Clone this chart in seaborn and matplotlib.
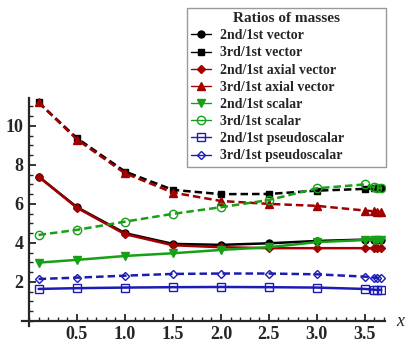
import seaborn as sns
import matplotlib.pyplot as plt
from matplotlib.ticker import MultipleLocator

# data
x_vals = [0.1, 0.5, 1.0, 1.5, 2.0, 2.5, 3.0, 3.5, 3.6, 3.63, 3.67]
vec2 = [7.40, 5.83, 4.50, 3.95, 3.90, 3.98, 4.10, 4.17, 4.17, 4.17, 4.17]
vec3 = [11.20, 9.37, 7.66, 6.72, 6.50, 6.51, 6.68, 6.77, 6.80, 6.80, 6.80]
axv2 = [7.40, 5.80, 4.45, 3.88, 3.78, 3.73, 3.73, 3.73, 3.73, 3.73, 3.73]
axv3 = [11.20, 9.30, 7.57, 6.58, 6.15, 6.00, 5.90, 5.66, 5.62, 5.60, 5.60]
sc2 = [2.99, 3.13, 3.33, 3.47, 3.64, 3.78, 4.04, 4.15, 4.15, 4.15, 4.15]
sc3 = [4.41, 4.67, 5.09, 5.49, 5.83, 6.20, 6.80, 7.00, 6.85, 6.82, 6.80]
ps2 = [1.64, 1.68, 1.71, 1.73, 1.74, 1.73, 1.71, 1.64, 1.60, 1.59, 1.59]
ps3 = [2.15, 2.22, 2.32, 2.41, 2.43, 2.43, 2.39, 2.27, 2.22, 2.20, 2.19]

labels = ["2nd/1st vector", "3rd/1st vector", "2nd/1st axial vector", "3rd/1st axial vector",
          "2nd/1st scalar", "3rd/1st scalar", "2nd/1st pseudoscalar", "3rd/1st pseudoscalar"]
series = [vec2, vec3, axv2, axv3, sc2, sc3, ps2, ps3]

black, red, green, blue = "#000000", "#a00000", "#16a016", "#1c1cb4"
styles = [
    (black, "-", "o", True, 5),
    (black, "--", "s", True, 5),
    (red, "-", "D", True, 4.5),
    (red, "--", "^", True, 5.5),
    (green, "-", "v", True, 6),
    (green, "--", "o", False, 6),
    (blue, "-", "s", False, 5.5),
    (blue, "--", "D", False, 4),
]

sns.set_style("ticks")
plt.rcParams['font.family'] = ['Liberation Serif', 'DejaVu Serif']
plt.rcParams['font.weight'] = 'bold'

fig = plt.figure(figsize=(4.07, 3.49), dpi=100)
ax = fig.add_axes([22 / 407, 23 / 349, 363 / 407, 228 / 349])

for vals, lab, (c, ls, m, filled, ms) in zip(series, labels, styles):
    sns.lineplot(x=x_vals, y=vals, ax=ax, color=c, linewidth=1.8,
                 marker=m, markersize=ms, markeredgecolor=c, markeredgewidth=1.0,
                 markerfacecolor=c if filled else "none", label=lab, sort=False)
    if ls == "--":
        ax.lines[-1].set_linestyle((0, (3, 1.6)))

ax.set_xlim(-0.073, 3.71)
ax.set_ylim(-0.26, 11.43)
for s in ["top", "right"]:
    ax.spines[s].set_visible(False)
ax.spines["left"].set_position(("data", 0))
ax.spines["bottom"].set_position(("data", 0))
ax.spines["left"].set_linewidth(1.6)
ax.spines["bottom"].set_linewidth(1.6)

ax.set_xticks([0.5, 1.0, 1.5, 2.0, 2.5, 3.0, 3.5])
ax.set_xticklabels(["0.5", "1.0", "1.5", "2.0", "2.5", "3.0", "3.5"])
ax.set_yticks([2, 4, 6, 8, 10])
ax.xaxis.set_minor_locator(MultipleLocator(0.1))
ax.yaxis.set_minor_locator(MultipleLocator(0.5))
ax.tick_params(which="major", direction="in", length=5, width=1.3, labelsize=13, pad=4)
ax.tick_params(which="minor", direction="in", length=3, width=1.0)
for t in ax.get_xticklabels() + ax.get_yticklabels():
    t.set_fontweight("bold")

ax.set_xlabel("")
ax.set_ylabel("")
fig.text(396 / 407, 1 - 321 / 349, "x", fontsize=13, style="italic",
         fontweight="normal", ha="left", va="center")

handles, labs = ax.get_legend_handles_labels()
ax.get_legend().remove()
leg = fig.legend(handles, labs, loc="upper left",
                 bbox_to_anchor=(187 / 407, 1 - 168 / 349, 199 / 407, 160 / 349),
                 mode="expand", title="Ratios of masses", frameon=True, fancybox=False,
                 prop={"weight": "bold", "size": 10}, handlelength=1.4,
                 handletextpad=0.7, labelspacing=0.3, borderpad=0.3,
                 borderaxespad=0)
leg.get_title().set_fontweight("bold")
leg.get_title().set_fontsize(11)
leg.get_frame().set_edgecolor("#808080")
leg.get_frame().set_linewidth(1.0)
for h in leg.legend_handles:
    h.set_linewidth(1.0)
    h.set_linestyle("-")

fig.savefig("out.png", dpi=100)
